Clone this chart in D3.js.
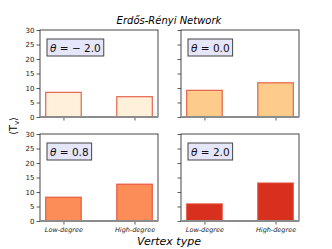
<!DOCTYPE html>
<html>
<head>
<meta charset="utf-8">
<script src="https://cdn.jsdelivr.net/npm/d3@7"></script>
<style>
  body { margin: 0; background: #fff; }
  text { font-family: "DejaVu Sans", sans-serif; }
</style>
</head>
<body>
<script>
// Erdős-Rényi: mean <T_v> per vertex type for four theta values

let categories = ["Low-degree", "High-degree"];
let thetas = ["\u2212 2.0", "0.0", "0.8", "2.0"];
let lowValues = [8.5, 9.2, 8.2, 5.9];
let highValues = [7.0, 11.8, 12.7, 13.1];
let fills = ["#fef0d9", "#fdcc8a", "#fc8d59", "#d7301f"];
let yTicks = [0, 5, 10, 15, 20, 25, 30];

let svgWidth = 332;
let svgHeight = 249;

let svg = d3.select("body")
            .append("svg")
            .attr("width", svgWidth)
            .attr("height", svgHeight);

// panel boxes
let panelW = 118;
let panelH = 87;
let lefts = [40, 181];
let tops = [30, 134];

let x = d3.scaleLinear().domain([-0.33, 1.33]).range([0, panelW]);
let y = d3.scaleLinear().domain([0, 30]).range([panelH, 0]);
let barW = x(0.5) - x(0);

thetas.forEach(function(theta, i) {
    let col = i % 2;
    let row = Math.floor(i / 2);
    let g = svg.append("g")
               .attr("transform", `translate(${lefts[col]}, ${tops[row]})`);

    let vals = [lowValues[i], highValues[i]];

    // bars
    g.selectAll("rect.bar")
     .data(vals)
     .enter()
     .append("rect")
     .attr("class", "bar")
     .attr("x", (d, j) => x(j) - barW / 2)
     .attr("y", d => y(d))
     .attr("width", barW)
     .attr("height", d => y(0) - y(d))
     .attr("fill", fills[i])
     .attr("stroke", "#e34a33")
     .attr("stroke-opacity", 0.85)
     .attr("stroke-width", 1.2);

    // y axis
    let leftAxis = d3.axisLeft(y).tickValues(yTicks).tickSize(3.5).tickPadding(2);
    if (col == 1) leftAxis.tickFormat("");
    let ya = g.append("g").call(leftAxis);
    ya.select(".domain").remove();
    ya.selectAll("line").attr("stroke", "#333").attr("stroke-width", 0.8);
    ya.selectAll("text").attr("font-size", "7px").attr("fill", "#222")
      .style("font-family", "DejaVu Sans, sans-serif");

    // x axis
    let bottomAxis = d3.axisBottom(x).tickValues([0, 1]).tickSize(3.5).tickPadding(3)
                       .tickFormat(d => row == 1 ? categories[d] : "");
    let xa = g.append("g").attr("transform", `translate(0, ${panelH})`).call(bottomAxis);
    xa.select(".domain").remove();
    xa.selectAll("line").attr("stroke", "#333").attr("stroke-width", 0.8);
    xa.selectAll("text").attr("font-size", "6.5px").attr("font-style", "italic").attr("fill", "#222")
      .style("font-family", "DejaVu Sans, sans-serif");

    // frame
    g.append("rect")
     .attr("width", panelW)
     .attr("height", panelH)
     .attr("fill", "none")
     .attr("stroke", "#333")
     .attr("stroke-width", 0.9);
    g.append("line")
     .attr("x1", 0).attr("x2", panelW)
     .attr("y1", panelH).attr("y2", panelH)
     .attr("stroke", "#8c8c8c")
     .attr("stroke-width", 2);

    // theta label box
    let label = g.append("g").attr("transform", "translate(7, 9)");
    let t = label.append("text")
                 .attr("x", 3)
                 .attr("y", 12.5)
                 .attr("font-size", "10.5px")
                 .attr("fill", "#111");
    t.append("tspan").attr("font-style", "italic").text("\u03b8");
    t.append("tspan").text(" = " + theta);
    let bb = t.node().getBBox();
    label.insert("rect", "text")
         .attr("x", 0)
         .attr("y", 0)
         .attr("width", bb.width + 6)
         .attr("height", 17)
         .attr("fill", "#e6e6fa")
         .attr("stroke", "#444")
         .attr("stroke-width", 1);
});

// title
svg.append("text")
   .attr("x", 169)
   .attr("y", 24)
   .attr("text-anchor", "middle")
   .attr("font-size", "10px")
   .attr("font-style", "italic")
   .text("Erdős-Rényi Network");

// y label
svg.append("text")
   .attr("transform", "translate(17, 126) rotate(-90)")
   .attr("text-anchor", "middle")
   .attr("font-size", "10px")
   .text("\u27e8T")
   .append("tspan")
   .attr("font-size", "7px")
   .attr("dy", 2)
   .text("v")
   .append("tspan")
   .attr("font-size", "10px")
   .attr("dy", -2)
   .text("\u27e9");

// x label
svg.append("text")
   .attr("x", 169)
   .attr("y", 245)
   .attr("text-anchor", "middle")
   .attr("font-size", "11px")
   .attr("font-style", "italic")
   .text("Vertex type");
</script>
</body>
</html>
